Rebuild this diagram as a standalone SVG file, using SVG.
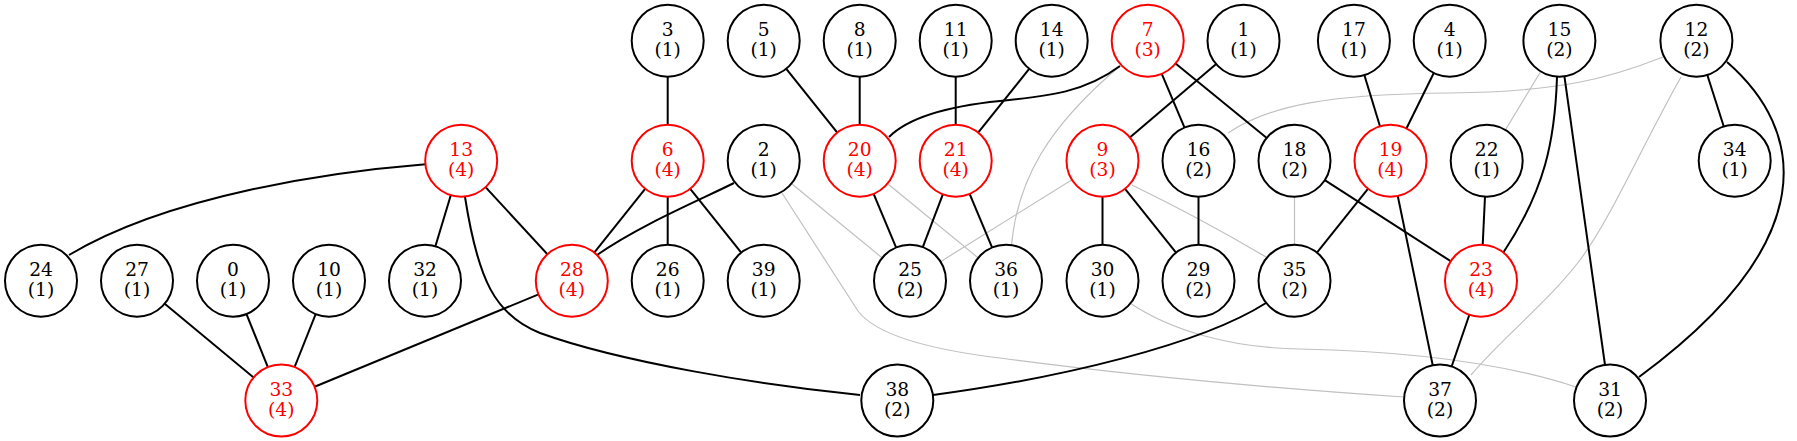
<svg xmlns="http://www.w3.org/2000/svg" width="1797" height="441" viewBox="0 0 1797 441">
<style>
.e{stroke:#000;stroke-width:2;fill:none}
.g{stroke:#c0c0c0;stroke-width:1.2;fill:none}
.n circle{fill:#fff;stroke:#000;stroke-width:2}
.n text{fill:#000}
.r circle{stroke:#f00}
.r text{fill:#f00}
text{font-family:"DejaVu Serif","Liberation Serif",serif;font-size:18.67px;text-anchor:middle}
</style>
<rect width="1797" height="441" fill="#fff"/>
<g id="connectors">
<line class="g" x1="763.7" y1="160.7" x2="910" y2="280.7"/>
<line class="g" x1="859.7" y1="160.7" x2="1006" y2="280.7"/>
<line class="g" x1="1102.5" y1="160.7" x2="910" y2="280.7"/>
<line class="g" x1="1294.5" y1="160.7" x2="1294.5" y2="280.7"/>
<line class="g" x1="1559.4" y1="40.7" x2="1486.7" y2="160.7"/>
<path class="g" d="M782,193 L858,311 C880,340 950,352 1000,358 C1150,378 1300,390 1404,397"/>
<path class="g" d="M1120,66 C1050,125 1015,180 1011,253"/>
<path class="g" d="M1132,185 Q1200,218 1266,257"/>
<path class="g" d="M1130,303 C1170,330 1230,348 1300,349 C1400,351 1500,362 1576,387"/>
<path class="g" d="M1663,57 C1610,78 1560,92 1450,93 C1330,94 1270,105 1228,133"/>
<path class="g" d="M1681,77 C1640,150 1610,220 1580,260 C1550,300 1500,340 1471,375"/>

<path class="e" d="M425.6,164.3 C330,172 170,195 69,255"/>
<path class="e" d="M465,197 C478,280 495,315 540,333 C620,362 760,385 860,395"/>
<path class="e" d="M933,395 C1060,378 1200,345 1266,303"/>
<path class="e" d="M734,183 C700,200 640,225 597,255"/>
<path class="e" d="M1120,66 C1085,92 1050,96 1000,101 C950,106 910,116 889,137"/>
<path class="e" d="M1727,62 C1805,130 1825,240 1639,377"/>
<path class="e" d="M1557,77 C1555,140 1545,190 1503,253"/>
<line class="e" x1="461.2" y1="160.7" x2="425" y2="280.7"/>
<line class="e" x1="461.2" y1="160.7" x2="571.8" y2="280.7"/>
<line class="e" x1="137" y1="280.7" x2="281.3" y2="400.5"/>
<line class="e" x1="233" y1="280.7" x2="281.3" y2="400.5"/>
<line class="e" x1="329" y1="280.7" x2="281.3" y2="400.5"/>
<line class="e" x1="571.8" y1="280.7" x2="281.3" y2="400.5"/>
<line class="e" x1="667.7" y1="40.7" x2="667.7" y2="160.7"/>
<line class="e" x1="667.7" y1="160.7" x2="571.8" y2="280.7"/>
<line class="e" x1="667.7" y1="160.7" x2="667.7" y2="280.7"/>
<line class="e" x1="667.7" y1="160.7" x2="763.7" y2="280.7"/>
<line class="e" x1="763.7" y1="40.7" x2="859.7" y2="160.7"/>
<line class="e" x1="859.7" y1="40.7" x2="859.7" y2="160.7"/>
<line class="e" x1="955.7" y1="40.7" x2="955.7" y2="160.7"/>
<line class="e" x1="1051.7" y1="40.7" x2="955.7" y2="160.7"/>
<line class="e" x1="859.7" y1="160.7" x2="910" y2="280.7"/>
<line class="e" x1="955.7" y1="160.7" x2="910" y2="280.7"/>
<line class="e" x1="955.7" y1="160.7" x2="1006" y2="280.7"/>
<line class="e" x1="1243.5" y1="40.7" x2="1102.5" y2="160.7"/>
<line class="e" x1="1147.7" y1="40.7" x2="1198.5" y2="160.7"/>
<line class="e" x1="1147.7" y1="40.7" x2="1294.5" y2="160.7"/>
<line class="e" x1="1102.5" y1="160.7" x2="1102.5" y2="280.7"/>
<line class="e" x1="1102.5" y1="160.7" x2="1198.5" y2="280.7"/>
<line class="e" x1="1198.5" y1="160.7" x2="1198.5" y2="280.7"/>
<line class="e" x1="1353.9" y1="40.7" x2="1390.5" y2="160.7"/>
<line class="e" x1="1449.7" y1="40.7" x2="1390.5" y2="160.7"/>
<line class="e" x1="1390.5" y1="160.7" x2="1294.5" y2="280.7"/>
<line class="e" x1="1390.5" y1="160.7" x2="1440" y2="400.5"/>
<line class="e" x1="1294.5" y1="160.7" x2="1481" y2="280.7"/>
<line class="e" x1="1486.7" y1="160.7" x2="1481" y2="280.7"/>
<line class="e" x1="1559.4" y1="40.7" x2="1610" y2="400.5"/>
<line class="e" x1="1696.4" y1="40.7" x2="1734.7" y2="160.7"/>
<line class="e" x1="1481" y1="280.7" x2="1440" y2="400.5"/>
</g>

<g id="n3" class="n"><circle cx="667.7" cy="40.7" r="36"/><text x="667.7" y="36">3</text><text x="667.7" y="56.3">(1)</text></g>
<g id="n5" class="n"><circle cx="763.7" cy="40.7" r="36"/><text x="763.7" y="36">5</text><text x="763.7" y="56.3">(1)</text></g>
<g id="n8" class="n"><circle cx="859.7" cy="40.7" r="36"/><text x="859.7" y="36">8</text><text x="859.7" y="56.3">(1)</text></g>
<g id="n11" class="n"><circle cx="955.7" cy="40.7" r="36"/><text x="955.7" y="36">11</text><text x="955.7" y="56.3">(1)</text></g>
<g id="n14" class="n"><circle cx="1051.7" cy="40.7" r="36"/><text x="1051.7" y="36">14</text><text x="1051.7" y="56.3">(1)</text></g>
<g id="n7" class="n r"><circle cx="1147.7" cy="40.7" r="36"/><text x="1147.7" y="36">7</text><text x="1147.7" y="56.3">(3)</text></g>
<g id="n1" class="n"><circle cx="1243.5" cy="40.7" r="36"/><text x="1243.5" y="36">1</text><text x="1243.5" y="56.3">(1)</text></g>
<g id="n17" class="n"><circle cx="1353.9" cy="40.7" r="36"/><text x="1353.9" y="36">17</text><text x="1353.9" y="56.3">(1)</text></g>
<g id="n4" class="n"><circle cx="1449.7" cy="40.7" r="36"/><text x="1449.7" y="36">4</text><text x="1449.7" y="56.3">(1)</text></g>
<g id="n15" class="n"><circle cx="1559.4" cy="40.7" r="36"/><text x="1559.4" y="36">15</text><text x="1559.4" y="56.3">(2)</text></g>
<g id="n12" class="n"><circle cx="1696.4" cy="40.7" r="36"/><text x="1696.4" y="36">12</text><text x="1696.4" y="56.3">(2)</text></g>

<g id="n13" class="n r"><circle cx="461.2" cy="160.7" r="36"/><text x="461.2" y="156">13</text><text x="461.2" y="176.3">(4)</text></g>
<g id="n6" class="n r"><circle cx="667.7" cy="160.7" r="36"/><text x="667.7" y="156">6</text><text x="667.7" y="176.3">(4)</text></g>
<g id="n2" class="n"><circle cx="763.7" cy="160.7" r="36"/><text x="763.7" y="156">2</text><text x="763.7" y="176.3">(1)</text></g>
<g id="n20" class="n r"><circle cx="859.7" cy="160.7" r="36"/><text x="859.7" y="156">20</text><text x="859.7" y="176.3">(4)</text></g>
<g id="n21" class="n r"><circle cx="955.7" cy="160.7" r="36"/><text x="955.7" y="156">21</text><text x="955.7" y="176.3">(4)</text></g>
<g id="n9" class="n r"><circle cx="1102.5" cy="160.7" r="36"/><text x="1102.5" y="156">9</text><text x="1102.5" y="176.3">(3)</text></g>
<g id="n16" class="n"><circle cx="1198.5" cy="160.7" r="36"/><text x="1198.5" y="156">16</text><text x="1198.5" y="176.3">(2)</text></g>
<g id="n18" class="n"><circle cx="1294.5" cy="160.7" r="36"/><text x="1294.5" y="156">18</text><text x="1294.5" y="176.3">(2)</text></g>
<g id="n19" class="n r"><circle cx="1390.5" cy="160.7" r="36"/><text x="1390.5" y="156">19</text><text x="1390.5" y="176.3">(4)</text></g>
<g id="n22" class="n"><circle cx="1486.7" cy="160.7" r="36"/><text x="1486.7" y="156">22</text><text x="1486.7" y="176.3">(1)</text></g>
<g id="n34" class="n"><circle cx="1734.7" cy="160.7" r="36"/><text x="1734.7" y="156">34</text><text x="1734.7" y="176.3">(1)</text></g>

<g id="n24" class="n"><circle cx="41" cy="280.7" r="36"/><text x="41" y="276">24</text><text x="41" y="296.3">(1)</text></g>
<g id="n27" class="n"><circle cx="137" cy="280.7" r="36"/><text x="137" y="276">27</text><text x="137" y="296.3">(1)</text></g>
<g id="n0" class="n"><circle cx="233" cy="280.7" r="36"/><text x="233" y="276">0</text><text x="233" y="296.3">(1)</text></g>
<g id="n10" class="n"><circle cx="329" cy="280.7" r="36"/><text x="329" y="276">10</text><text x="329" y="296.3">(1)</text></g>
<g id="n32" class="n"><circle cx="425" cy="280.7" r="36"/><text x="425" y="276">32</text><text x="425" y="296.3">(1)</text></g>
<g id="n28" class="n r"><circle cx="571.8" cy="280.7" r="36"/><text x="571.8" y="276">28</text><text x="571.8" y="296.3">(4)</text></g>
<g id="n26" class="n"><circle cx="667.7" cy="280.7" r="36"/><text x="667.7" y="276">26</text><text x="667.7" y="296.3">(1)</text></g>
<g id="n39" class="n"><circle cx="763.7" cy="280.7" r="36"/><text x="763.7" y="276">39</text><text x="763.7" y="296.3">(1)</text></g>
<g id="n25" class="n"><circle cx="910" cy="280.7" r="36"/><text x="910" y="276">25</text><text x="910" y="296.3">(2)</text></g>
<g id="n36" class="n"><circle cx="1006" cy="280.7" r="36"/><text x="1006" y="276">36</text><text x="1006" y="296.3">(1)</text></g>
<g id="n30" class="n"><circle cx="1102.5" cy="280.7" r="36"/><text x="1102.5" y="276">30</text><text x="1102.5" y="296.3">(1)</text></g>
<g id="n29" class="n"><circle cx="1198.5" cy="280.7" r="36"/><text x="1198.5" y="276">29</text><text x="1198.5" y="296.3">(2)</text></g>
<g id="n35" class="n"><circle cx="1294.5" cy="280.7" r="36"/><text x="1294.5" y="276">35</text><text x="1294.5" y="296.3">(2)</text></g>
<g id="n23" class="n r"><circle cx="1481" cy="280.7" r="36"/><text x="1481" y="276">23</text><text x="1481" y="296.3">(4)</text></g>

<g id="n33" class="n r"><circle cx="281.3" cy="400.5" r="36"/><text x="281.3" y="395.8">33</text><text x="281.3" y="416.1">(4)</text></g>
<g id="n38" class="n"><circle cx="897.3" cy="400.5" r="36"/><text x="897.3" y="395.8">38</text><text x="897.3" y="416.1">(2)</text></g>
<g id="n37" class="n"><circle cx="1440" cy="400.5" r="36"/><text x="1440" y="395.8">37</text><text x="1440" y="416.1">(2)</text></g>
<g id="n31" class="n"><circle cx="1610" cy="400.5" r="36"/><text x="1610" y="395.8">31</text><text x="1610" y="416.1">(2)</text></g>
</svg>
